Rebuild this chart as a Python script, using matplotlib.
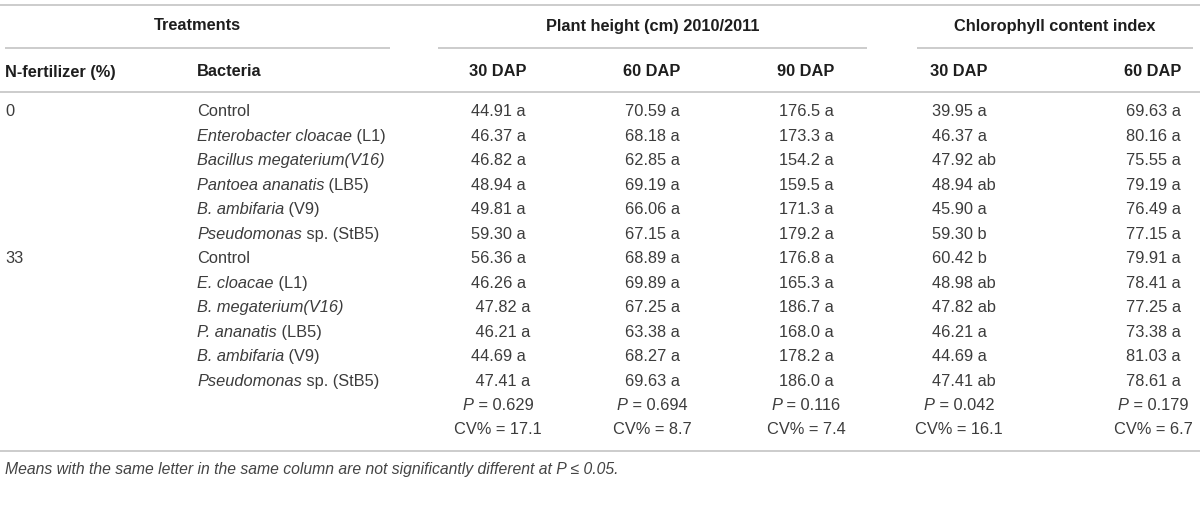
import matplotlib
matplotlib.use("Agg")
import matplotlib.pyplot as plt

# ---------------- data ----------------
group_headers = ["Treatments", "Plant height (cm) 2010/2011", "Chlorophyll content index"]
col_headers = ["N-fertilizer (%)", "Bacteria", "30 DAP", "60 DAP", "90 DAP", "30 DAP", "60 DAP"]
n_levels = ["0", "", "", "", "", "", "33", "", "", "", "", ""]
# bacteria names as (italic part, regular part)
bacteria = [
    ("", "Control"),
    ("Enterobacter cloacae", " (L1)"),
    ("Bacillus megaterium(V16)", ""),
    ("Pantoea ananatis", " (LB5)"),
    ("B. ambifaria", " (V9)"),
    ("Pseudomonas", " sp. (StB5)"),
    ("", "Control"),
    ("E. cloacae", " (L1)"),
    ("B. megaterium(V16)", ""),
    ("P. ananatis", " (LB5)"),
    ("B. ambifaria", " (V9)"),
    ("Pseudomonas", " sp. (StB5)"),
]
height_30 = ["44.91 a", "46.37 a", "46.82 a", "48.94 a", "49.81 a", "59.30 a",
             "56.36 a", "46.26 a", " 47.82 a", " 46.21 a", "44.69 a", " 47.41 a"]
height_60 = ["70.59 a", "68.18 a", "62.85 a", "69.19 a", "66.06 a", "67.15 a",
             "68.89 a", "69.89 a", "67.25 a", "63.38 a", "68.27 a", "69.63 a"]
height_90 = ["176.5 a", "173.3 a", "154.2 a", "159.5 a", "171.3 a", "179.2 a",
             "176.8 a", "165.3 a", "186.7 a", "168.0 a", "178.2 a", "186.0 a"]
chl_30 = ["39.95 a", "46.37 a", "47.92 ab", "48.94 ab", "45.90 a", "59.30 b",
          "60.42 b", "48.98 ab", "47.82 ab", "46.21 a", "44.69 a", "47.41 ab"]
chl_60 = ["69.63 a", "80.16 a", "75.55 a", "79.19 a", "76.49 a", "77.15 a",
          "79.91 a", "78.41 a", "77.25 a", "73.38 a", "81.03 a", "78.61 a"]
p_values = ["0.629", "0.694", "0.116", "0.042", "0.179"]
cv_values = ["17.1", "8.7", "7.4", "16.1", "6.7"]
footnote = "Means with the same letter in the same column are not significantly different at P \u2264 0.05."

# ---------------- layout ----------------
FONT = "Liberation Sans"
TXT = "#3c3c3c"
HDR = "#1e1e1e"
LINE = "#cccccc"
FS = 11.8

fig = plt.figure(figsize=(12, 5.1), dpi=100)
ax = fig.add_axes([0, 0, 1, 1])
ax.set_xlim(0, 1200)
ax.set_ylim(510, 0)
ax.axis("off")
fig.canvas.draw()
renderer = fig.canvas.get_renderer()
inv = ax.transData.inverted()


def text_runs(x, y, runs, ha="left", size=FS, color=TXT):
    """runs: list of (text, style). Draw pieces in sequence."""
    artists = []
    widths = []
    for s, st in runs:
        if not s:
            continue
        t = ax.text(0, y, s, fontsize=size, family=FONT, style=st, color=color,
                    va="center", ha="left")
        bb = t.get_window_extent(renderer)
        p0 = inv.transform((bb.x0, bb.y0))
        p1 = inv.transform((bb.x1, bb.y0))
        artists.append(t)
        widths.append(p1[0] - p0[0])
    total = sum(widths)
    cx = x - total / 2 if ha == "center" else x
    for t, w in zip(artists, widths):
        t.set_x(cx)
        cx += w


# rules
ax.hlines([6, 93, 452], 0, 1200, color=LINE, lw=1.4)
spans = [(5, 390), (438, 867), (917, 1193)]
ax.hlines([49] * 3, [s[0] for s in spans], [s[1] for s in spans], color=LINE, lw=1.4)

# group headers
for (a, b), h in zip(spans, group_headers):
    ax.text((a + b) / 2, 26, h, fontsize=FS, family=FONT, weight="bold",
            color=HDR, ha="center", va="center")

col_x = [498, 652, 806, 959, 1153]
VAL_OFF = 27
ax.text(5, 72, col_headers[0], fontsize=FS, family=FONT, weight="bold", color=HDR, va="center")
ax.text(197, 72, col_headers[1], fontsize=FS, family=FONT, weight="bold", color=HDR, va="center")
for x, h in zip(col_x, col_headers[2:]):
    ax.text(x, 72, h, fontsize=FS, family=FONT, weight="bold", color=HDR, ha="center", va="center")

y0, dy = 112, 24.46
columns = [height_30, height_60, height_90, chl_30, chl_60]
for i in range(len(bacteria)):
    y = y0 + i * dy
    if n_levels[i]:
        ax.text(5, y, n_levels[i], fontsize=FS, family=FONT, color=TXT, va="center")
    it, rg = bacteria[i]
    text_runs(197, y, [(it, "italic"), (rg, "normal")])
    for x, col in zip(col_x, columns):
        ax.text(x - VAL_OFF, y, col[i], fontsize=FS, family=FONT, color=TXT, ha="left", va="center")

yp = y0 + len(bacteria) * dy
for x, p, cv in zip(col_x, p_values, cv_values):
    text_runs(x, yp, [("P", "italic"), (" = " + p, "normal")], ha="center")
    ax.text(x, yp + dy, "CV% = " + cv, fontsize=FS, family=FONT, color=TXT, ha="center", va="center")

ax.text(5, 470, footnote, fontsize=11.3, family=FONT, style="italic", color="#444444", va="center")

fig.savefig("out.png", dpi=100)
